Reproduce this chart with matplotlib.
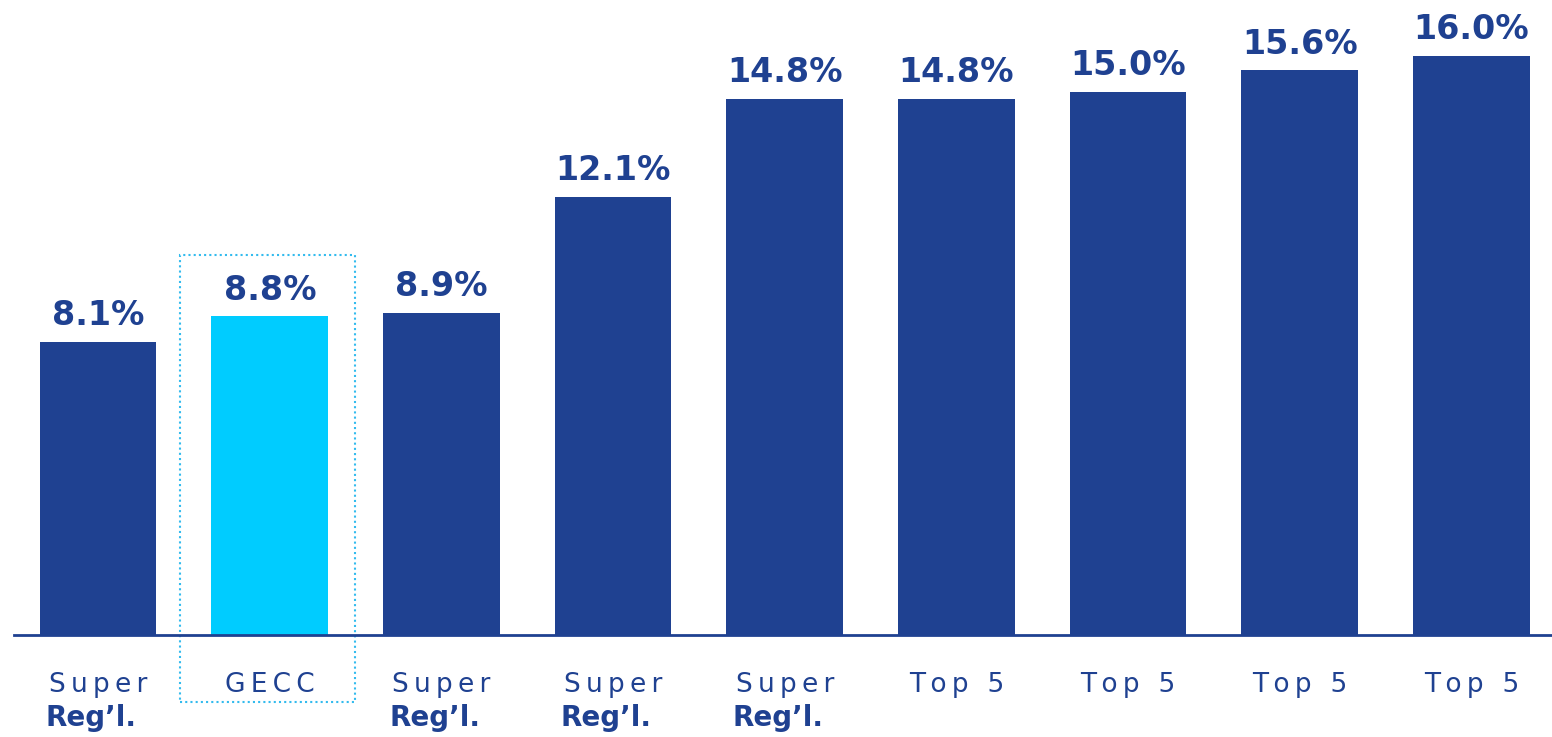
import matplotlib
matplotlib.use('Agg')
import matplotlib.pyplot as plt
from matplotlib.patches import Rectangle
from matplotlib.transforms import blended_transform_factory

# data
values = [8.1, 8.8, 8.9, 12.1, 14.8, 14.8, 15.0, 15.6, 16.0]
top_labels = ['Super', 'GECC', 'Super', 'Super', 'Super', 'Top 5', 'Top 5', 'Top 5', 'Top 5']
sub_labels = ['Reg\u2019l.', '', 'Reg\u2019l.', 'Reg\u2019l.', 'Reg\u2019l.', '', '', '', '']
highlight = 1

dark = '#1f4191'
light = '#00ccff'


def spaced(s):
    # the original uses a wide, letter-spaced face
    return '\u2009'.join(s)


fig = plt.figure(figsize=(15.52, 7.37), dpi=100)
ax = fig.add_axes([14 / 1552, 102 / 737, 1 - 14 / 1552, 635 / 737])

x = list(range(len(values)))
colors = [light if i == highlight else dark for i in x]
bars = ax.bar(x, values, width=0.68, color=colors)

for b, v in zip(bars, values):
    ax.annotate(f'{v:.1f}%', (b.get_x() + b.get_width() / 2, v),
                xytext=(0, 7), textcoords='offset points',
                ha='center', va='bottom', fontsize=24, fontweight='bold',
                color=dark)

ax.set_xlim(-0.49, 8.47)
ax.set_ylim(0, 17.54)

for s in ['top', 'right', 'left']:
    ax.spines[s].set_visible(False)
ax.spines['bottom'].set_color(dark)
ax.spines['bottom'].set_linewidth(2)
ax.set_yticks([])
ax.set_xticks([])

tr = blended_transform_factory(ax.transData, ax.transAxes)
for i in x:
    ax.text(i, -0.079, spaced(top_labels[i]), transform=tr, ha='center',
            va='center', fontsize=19, color=dark)
    if sub_labels[i]:
        ax.text(i - 0.04, -0.13, sub_labels[i], transform=tr, ha='center',
                va='center', fontsize=20, fontweight='bold', color=dark)

# dotted box around the highlighted bar
box = Rectangle((highlight - 0.522, -1.85), 1.02, 12.35, fill=False,
                edgecolor='#33bbee', linestyle=(0, (1, 1.5)), linewidth=1.5,
                clip_on=False)
ax.add_patch(box)

fig.savefig('out.png', dpi=100)
